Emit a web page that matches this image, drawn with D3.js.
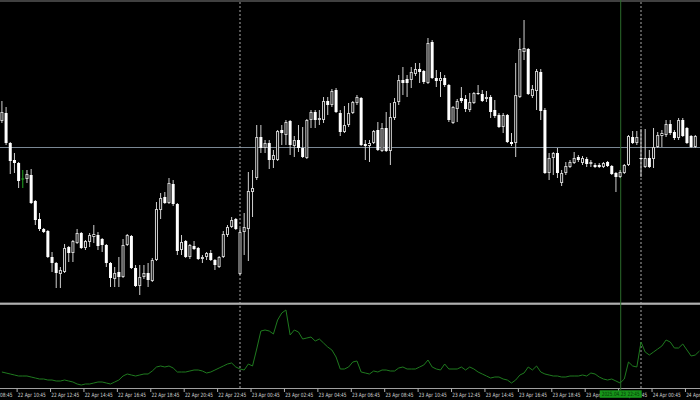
<!DOCTYPE html>
<html><head><meta charset="utf-8">
<script src="https://cdn.jsdelivr.net/npm/d3@7"></script>
<style>html,body{margin:0;padding:0;background:#000;overflow:hidden}</style>
</head><body><svg id="c" width="700" height="400"></svg>
<script>
// ---- data (prices in chart points; bar 0 = 22 Apr 09:45, M15 bars) ----
const opens = [179,187,157,140,137,121,121,125,99,81,
71,69,43,37,26,28,53,47,57,67,
52,58,63,65,61,55,37,21,28,23,
55,64,32,14,23,27,19,40,90,103,
97,116,96,50,59,43,54,52,41,43,
47,40,33,43,65,73,81,26,68,71,
108,122,163,152,157,140,140,170,165,179,
154,160,152,142,180,188,180,180,199,195,
210,187,168,175,187,197,202,156,154,157,
170,149,172,149,182,198,220,221,220,226,
231,229,217,258,222,219,222,215,177,191,
202,201,190,197,207,206,201,203,190,185,
173,185,158,157,203,248,251,204,209,228,
190,127,142,147,117,127,133,137,143,137,
141,136,135,135,133,138,134,127,123,127,
135,163,157,142,133,142,141,153,164,165,
176,168,162,180,172,164,153];
const highs = [199,193,158,147,138,130,130,131,100,87,
72,70,48,38,33,56,54,60,71,68,
60,67,75,68,62,56,38,33,43,61,
66,65,35,35,35,37,42,98,107,108,
122,120,97,65,60,56,59,53,45,48,
50,41,44,69,75,83,82,72,87,128,
130,175,175,160,160,150,170,175,180,180,
164,175,173,181,190,190,190,203,203,211,
212,190,194,197,199,205,203,160,160,170,
178,177,188,197,202,225,233,225,233,237,
237,230,262,260,230,228,225,216,194,201,
213,205,207,208,215,210,209,205,200,187,
187,186,167,237,262,280,252,215,231,231,
192,147,148,152,130,138,140,148,145,144,
143,140,137,137,138,139,135,128,130,136,
165,169,169,171,171,150,172,168,170,180,
180,170,182,182,173,165,165];
const lows = [177,155,126,127,112,112,117,96,75,69,
67,42,28,12,12,27,38,38,56,51,
50,53,57,50,48,33,13,13,13,22,
54,31,13,5,21,13,18,39,81,96,
96,94,45,45,42,41,50,40,37,40,
39,30,32,42,63,72,70,25,45,39,
83,120,147,147,131,132,139,155,155,145,
143,148,142,141,172,172,175,177,185,193,
187,164,167,173,186,195,154,140,138,156,
149,148,148,135,180,195,205,203,212,224,
217,216,216,221,213,203,213,178,176,178,
197,188,188,196,205,198,198,182,182,172,
167,157,154,143,202,240,205,202,190,180,
126,120,125,122,114,125,132,136,138,135,
133,133,132,132,132,133,125,108,122,126,
134,156,155,123,132,132,132,152,153,163,
165,160,160,163,156,152,152];
const closes = [188,157,139,137,119,121,126,97,80,71,
68,43,37,27,30,52,47,59,67,52,
59,65,66,54,55,37,22,27,23,55,
65,32,14,23,27,20,40,91,102,97,
117,96,49,58,43,55,51,41,43,47,
40,35,43,66,73,80,71,68,73,109,
112,163,152,157,140,145,169,167,178,155,
160,152,143,180,188,180,182,199,195,209,
188,168,175,187,198,203,155,154,157,169,
150,172,149,183,198,220,217,217,228,231,
228,218,257,222,219,222,215,180,193,199,
199,191,198,207,206,199,203,188,184,173,
185,158,156,205,251,252,206,211,229,189,
127,142,147,127,127,134,138,142,140,142,
136,138,133,133,137,134,126,123,128,135,
164,157,163,141,142,133,153,165,167,176,
167,162,180,164,157,153,164];
// indicator sub-window values, one per bar
const indicator = [16,15,14,13,12,12,12,11,10,9,
9,8,8,7,7,8,7,6,4,3,
4,4,5,6,6,5,4,6,8,12,
14,13,12,13,14,14,17,21,22,21,
22,20,16,16,16,17,18,18,17,15,
16,18,20,22,24,25,21,19,18,24,
22,39,57,58,57,54,68,75,78,53,
58,56,49,50,51,47,49,45,41,38,
31,19,19,21,26,27,16,15,14,17,
16,18,18,17,17,20,21,19,19,19,
21,23,28,21,19,18,24,19,19,19,
21,18,21,19,16,14,12,10,11,11,
9,8,5,8,13,15,21,18,22,16,
14,13,12,12,11,11,12,12,12,13,
12,15,14,11,9,8,9,7,5,9,
26,22,21,46,36,33,36,39,42,48,
46,40,40,44,38,32,33,37];
const tickLabels = ["22 Apr 08:45","22 Apr 10:45","22 Apr 12:45","22 Apr 14:45","22 Apr 16:45","22 Apr 18:45","22 Apr 20:45","22 Apr 22:45",
"23 Apr 00:45","23 Apr 02:45","23 Apr 04:45","23 Apr 06:45","23 Apr 08:45","23 Apr 10:45","23 Apr 12:45","23 Apr 14:45",
"23 Apr 16:45","23 Apr 18:45","23 Apr 20:45","23 Apr 22:45","24 Apr 00:45","24 Apr 02:45"];
const tickBars = [-4,4,12,20,28,36,44,52,60,68,76,84,92,100,108,116,124,132,140,148,156,164];
const daySeparatorBars = [57,153];
const crosshairBar = 148;
const crosshairLabel = "2025.04.23 22:45";
const hLinePrice = 152.5;

// ---- scales ----
const x = d3.scaleLinear().domain([57,153]).range([240,641]);
const y = d3.scaleLinear().domain([0,300]).range([300,0]);
const yi = d3.scaleLinear().domain([0,83]).range([388,305]);

const svg = d3.select("#c");
svg.append("rect").attr("width",700).attr("height",400).attr("fill","#000");

const defs = svg.append("defs");
defs.append("clipPath").attr("id","mainClip").append("rect").attr("x",0).attr("y",2).attr("width",700).attr("height",300);
defs.append("clipPath").attr("id","indClip").append("rect").attr("x",0).attr("y",305.5).attr("width",700).attr("height",82);

// frame lines
svg.append("line").attr("x1",0).attr("x2",700).attr("y1",1).attr("y2",1).attr("stroke","#808080").attr("stroke-width",1.2);
svg.append("rect").attr("x",0).attr("y",302.6).attr("width",700).attr("height",2.2).attr("fill","#b0b0b0");
svg.append("line").attr("x1",0).attr("x2",700).attr("y1",388.5).attr("y2",388.5).attr("stroke","#a0a0a0").attr("stroke-width",1);

// horizontal line
svg.append("line").attr("x1",0).attr("x2",700).attr("y1",y(hLinePrice)).attr("y2",y(hLinePrice))
  .attr("stroke","#7a8794").attr("stroke-width",1);

// day separators
svg.selectAll("line.sep").data(daySeparatorBars).join("line").attr("class","sep")
  .attr("x1",d=>x(d)).attr("x2",d=>x(d)).attr("y1",2).attr("y2",388)
  .attr("stroke","#a8a8a8").attr("stroke-width",1).attr("stroke-dasharray","2,2");

// crosshair vertical
svg.append("line").attr("x1",x(crosshairBar)+0.6).attr("x2",x(crosshairBar)+0.6).attr("y1",0).attr("y2",390)
  .attr("stroke","#2b6b2b").attr("stroke-width",1);

// candles
const bars = opens.map((o,i)=>({i,o,h:highs[i],l:lows[i],c:closes[i]}));
const gMain = svg.append("g").attr("clip-path","url(#mainClip)");
gMain.selectAll("line.wick").data(bars).join("line").attr("class","wick")
  .attr("x1",d=>x(d.i)).attr("x2",d=>x(d.i))
  .attr("y1",d=>y(d.h)).attr("y2",d=>y(d.l))
  .attr("stroke",d=>d.o===d.c?"#22aa22":"#d0d0d0").attr("stroke-width",1);
gMain.selectAll("rect.body").data(bars.filter(d=>d.o!==d.c)).join("rect").attr("class","body")
  .attr("x",d=>d.c>d.o? x(d.i)-1 : x(d.i)-1.5)
  .attr("width",d=>d.c>d.o?2:3)
  .attr("y",d=>y(Math.max(d.o,d.c)) + (d.c>d.o?0.5:0))
  .attr("height",d=>Math.max(1,Math.abs(y(d.o)-y(d.c)) - (d.c>d.o?1:0)))
  .attr("fill",d=>d.c>d.o?"#000":"#ffffff")
  .attr("stroke",d=>d.c>d.o?"#d0d0d0":"none")
  .attr("stroke-width",1);
gMain.selectAll("line.doji").data(bars.filter(d=>d.o===d.c)).join("line").attr("class","doji")
  .attr("x1",d=>x(d.i)-1.5).attr("x2",d=>x(d.i)+1.5)
  .attr("y1",d=>y(d.o)).attr("y2",d=>y(d.o))
  .attr("stroke","#22aa22").attr("stroke-width",1);

// indicator line
const gInd = svg.append("g").attr("clip-path","url(#indClip)");
gInd.append("path").datum(indicator)
  .attr("d",d3.line().x((d,i)=>x(i)).y(d=>yi(d)))
  .attr("fill","none").attr("stroke","#1f7a1f").attr("stroke-width",1);

// time axis
const gAx = svg.append("g");
gAx.selectAll("line.tick").data(tickBars).join("line").attr("class","tick")
  .attr("x1",d=>x(d)-1.5).attr("x2",d=>x(d)-1.5).attr("y1",388.5).attr("y2",392)
  .attr("stroke","#b0b0b0").attr("stroke-width",1);
gAx.selectAll("text.tl").data(tickBars).join("text").attr("class","tl")
  .attr("x",d=>x(d)-0.8).attr("y",396.6)
  .attr("font-family","'Liberation Sans Narrow', 'DejaVu Sans Condensed', sans-serif").attr("font-size",5.8)
  .attr("textLength",28).attr("lengthAdjust","spacingAndGlyphs")
  .attr("fill","#d0d0d0")
  .text((d,i)=>tickLabels[i]);

// crosshair time label
const cx = x(crosshairBar)+0.6;
svg.append("rect").attr("x",cx-21).attr("y",390.3).attr("width",42).attr("height",7.5).attr("fill","#17951a");
svg.append("text").attr("x",cx).attr("y",396.4).attr("text-anchor","middle")
  .attr("font-family","'Liberation Sans Narrow', 'DejaVu Sans Condensed', sans-serif").attr("font-size",5.8)
  .attr("textLength",38).attr("lengthAdjust","spacingAndGlyphs")
  .attr("fill","#063a06").text(crosshairLabel);
</script></body></html>
